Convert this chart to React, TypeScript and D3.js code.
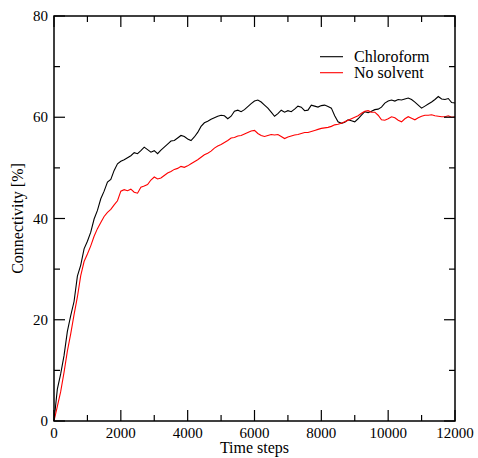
import React from "react";
import * as d3 from "d3";

const timeSteps: number[] = d3.range(0, 12001, 100);

const chloroform: number[] = [
  0, 6.3, 9.3, 12.9, 17.7, 20.8, 23.6, 28.6, 30.8, 34.0,
  35.5, 37.3, 39.9, 41.6, 43.9, 45.4, 47.2, 47.7, 49.5, 50.8,
  51.3, 51.6, 52.0, 52.4, 53.0, 52.8, 53.4, 54.1, 53.6, 53.1,
  53.4, 52.8, 53.5, 54.1, 54.7, 55.3, 55.4, 55.9, 56.4, 56.2,
  55.7, 55.4, 56.1, 57.0, 58.2, 58.9, 59.2, 59.6, 59.9, 60.2,
  60.4, 60.3, 59.7, 60.2, 61.2, 61.4, 61.1, 61.5, 62.1, 62.7,
  63.2, 63.4, 63.0, 62.4, 61.8, 61.0, 60.2, 60.7, 61.4, 61.0,
  61.3, 61.1, 61.6, 62.2, 62.0, 61.3, 61.4, 62.4, 62.2, 62.0,
  62.3, 62.4, 62.1, 61.8, 60.3, 59.1, 58.8, 59.0, 59.5, 59.3,
  59.1, 59.7, 60.4, 61.1, 60.9, 61.2, 61.5, 61.6, 62.0, 62.8,
  63.2, 63.4, 63.2, 63.5, 63.4, 63.6, 63.8, 63.5, 63.0, 62.4,
  61.8, 62.2, 62.6, 63.0, 63.5, 64.1, 63.6, 63.5, 63.7, 62.9,
  62.8,
];

const noSolvent: number[] = [
  0, 2.9, 5.8, 9.6, 13.8, 17.2, 21.0, 24.5, 28.7, 31.5,
  33.0, 34.6, 36.5, 38.0, 39.2, 40.4, 41.2, 41.8, 42.7, 43.5,
  45.4, 45.7, 45.5, 45.8, 45.2, 45.0, 46.2, 46.4, 46.7, 47.6,
  48.2, 47.8, 48.0, 48.5, 49.0, 49.3, 49.7, 49.9, 50.3, 50.1,
  50.4, 50.8, 51.2, 51.6, 52.1, 52.6, 52.9, 53.3, 53.9, 54.3,
  54.6, 55.0, 55.4, 55.9, 56.0, 56.3, 56.4, 56.7, 57.0, 57.3,
  57.4, 56.8, 56.4, 56.2, 56.4, 56.6, 56.5, 56.6, 56.2, 55.8,
  56.1, 56.3, 56.5, 56.6, 56.8, 57.0, 57.0, 57.2, 57.4, 57.6,
  57.8, 57.9, 58.0, 58.2, 58.5, 58.6, 58.8, 59.1, 59.4, 59.7,
  60.0, 60.3, 60.8, 61.2, 61.3, 61.0, 61.0, 60.4, 59.5, 59.4,
  59.7, 60.1, 59.9, 59.4, 59.1, 59.7, 60.1, 59.8, 59.5, 59.9,
  60.2, 60.4, 60.4, 60.5, 60.3, 60.2, 60.1, 60.1, 60.3, 60.0,
  60.1,
];

const xMajorTicks: number[] = [0, 2000, 4000, 6000, 8000, 10000, 12000];
const xMinorTicks: number[] = [1000, 3000, 5000, 7000, 9000, 11000];
const yMajorTicks: number[] = [0, 20, 40, 60, 80];
const yMinorTicks: number[] = [10, 30, 50, 70];

const seriesNames: string[] = ["Chloroform", "No solvent"];
const seriesColors: string[] = ["#000000", "#ff0000"];

const W = 478;
const H = 458;
const X0 = 54;
const X1 = 455;
const Y0 = 421;
const Y1 = 16;
const FONT = "'Liberation Serif', 'DejaVu Serif', serif";

export default function App() {
  const x = d3.scaleLinear().domain([0, 12000]).range([X0, X1]);
  const y = d3.scaleLinear().domain([0, 80]).range([Y0, Y1]);
  const line = d3
    .line<number>()
    .x((_, i) => x(timeSteps[i]))
    .y((d) => y(d))
    .curve(d3.curveLinear);
  const series = [chloroform, noSolvent];
  const major = 11;
  const minor = 6;

  return (
    <svg
      width={W}
      height={H}
      style={{ position: "absolute", left: 0, top: 0, background: "#fff" }}
      fontFamily={FONT}
    >
      <rect x={0} y={0} width={W} height={H} fill="#fff" />
      {series.map((s, k) => (
        <path
          key={k}
          d={line(s) || ""}
          fill="none"
          stroke={seriesColors[k]}
          strokeWidth={1.1}
          strokeLinejoin="miter"
        />
      ))}
      {/* ticks */}
      <g stroke="#000" strokeWidth={1.2}>
        {xMajorTicks.map((t) => (
          <g key={"xm" + t}>
            <line x1={x(t)} x2={x(t)} y1={Y0} y2={Y0 - major} />
            <line x1={x(t)} x2={x(t)} y1={Y1} y2={Y1 + major} />
          </g>
        ))}
        {xMinorTicks.map((t) => (
          <g key={"xn" + t}>
            <line x1={x(t)} x2={x(t)} y1={Y0} y2={Y0 - minor} />
            <line x1={x(t)} x2={x(t)} y1={Y1} y2={Y1 + minor} />
          </g>
        ))}
        {yMajorTicks.map((t) => (
          <g key={"ym" + t}>
            <line x1={X0} x2={X0 + major} y1={y(t)} y2={y(t)} />
            <line x1={X1} x2={X1 - major} y1={y(t)} y2={y(t)} />
          </g>
        ))}
        {yMinorTicks.map((t) => (
          <g key={"yn" + t}>
            <line x1={X0} x2={X0 + minor} y1={y(t)} y2={y(t)} />
            <line x1={X1} x2={X1 - minor} y1={y(t)} y2={y(t)} />
          </g>
        ))}
      </g>
      <rect
        x={X0}
        y={Y1}
        width={X1 - X0}
        height={Y0 - Y1}
        fill="none"
        stroke="#000"
        strokeWidth={1.5}
      />
      {/* tick labels */}
      <g fontSize={15} fill="#000">
        {xMajorTicks.map((t) => (
          <text key={"xl" + t} x={x(t)} y={437.5} textAnchor="middle">
            {t}
          </text>
        ))}
        {yMajorTicks.map((t) => (
          <text key={"yl" + t} x={48} y={y(t) + 5} textAnchor="end">
            {t}
          </text>
        ))}
      </g>
      <text x={(X0 + X1) / 2} y={453} fontSize={16} textAnchor="middle">
        Time steps
      </text>
      <text
        transform={`translate(23,${(Y0 + Y1) / 2}) rotate(-90)`}
        fontSize={16}
        textAnchor="middle"
      >
        Connectivity [%]
      </text>
      {/* legend */}
      {seriesNames.map((n, k) => (
        <g key={n}>
          <line
            x1={320}
            x2={343}
            y1={56.7 + k * 16}
            y2={56.7 + k * 16}
            stroke={seriesColors[k]}
            strokeWidth={1.1}
          />
          <text x={354} y={62 + k * 16} fontSize={16}>
            {n}
          </text>
        </g>
      ))}
    </svg>
  );
}
